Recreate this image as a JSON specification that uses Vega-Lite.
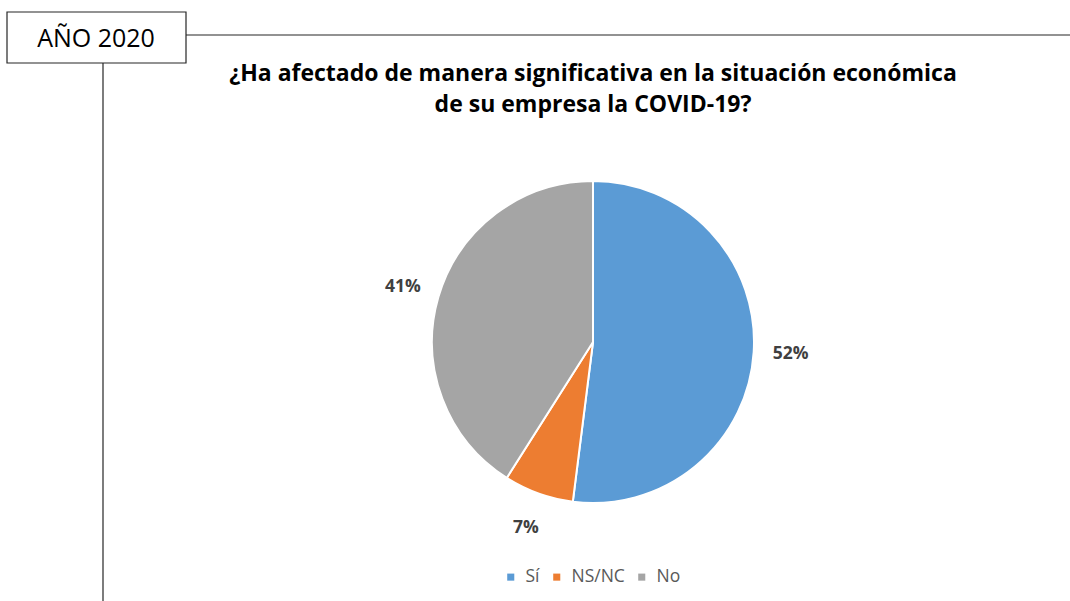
{
  "$schema": "https://vega.github.io/schema/vega-lite/v6.json",
  "width": 1070,
  "height": 601,
  "padding": 0,
  "autosize": {"type": "none"},
  "background": "white",
  "config": {"view": {"stroke": null}, "font": "Open Sans"},
  "title": {
    "text": ["¿Ha afectado de manera significativa en la situación económica", "de su empresa la COVID-19?"],
    "orient": "top",
    "anchor": "middle",
    "frame": "group",
    "offset": -117,
    "dx": 58,
    "font": "Open Sans",
    "fontSize": 23,
    "fontWeight": "bold",
    "lineHeight": 31,
    "color": "#000000"
  },
  "datasets": {
    "pie": [
      {"respuesta": "Sí", "valor": 52, "etiqueta": "52%", "orden": 1},
      {"respuesta": "NS/NC", "valor": 7, "etiqueta": "7%", "orden": 2},
      {"respuesta": "No", "valor": 41, "etiqueta": "41%", "orden": 3}
    ],
    "caja": [{"texto": "AÑO 2020"}]
  },
  "layer": [
    {
      "data": {"name": "caja"},
      "mark": {"type": "rect", "fill": "white", "stroke": "#262626", "strokeWidth": 1.2},
      "encoding": {
        "x": {"datum": 7, "type": "quantitative", "scale": {"domain": [0, 1070], "nice": false, "zero": false}, "axis": null},
        "x2": {"datum": 186},
        "y": {"datum": 12, "type": "quantitative", "scale": {"domain": [0, 601], "nice": false, "zero": false, "reverse": true}, "axis": null},
        "y2": {"datum": 63}
      }
    },
    {
      "data": {"name": "caja"},
      "mark": {"type": "rule", "stroke": "#262626", "strokeWidth": 1.2},
      "encoding": {
        "x": {"datum": 186, "type": "quantitative"},
        "x2": {"datum": 1070},
        "y": {"datum": 35, "type": "quantitative"}
      }
    },
    {
      "data": {"name": "caja"},
      "mark": {"type": "rule", "stroke": "#262626", "strokeWidth": 1.2},
      "encoding": {
        "x": {"datum": 103, "type": "quantitative"},
        "y": {"datum": 63, "type": "quantitative"},
        "y2": {"datum": 601}
      }
    },
    {
      "data": {"name": "caja"},
      "mark": {"type": "text", "font": "Open Sans", "fontSize": 25, "color": "#000000", "align": "center", "baseline": "middle"},
      "encoding": {
        "x": {"datum": 96, "type": "quantitative"},
        "y": {"datum": 39, "type": "quantitative"},
        "text": {"field": "texto"}
      }
    },
    {
      "data": {"name": "pie"},
      "mark": {"type": "arc", "radius": 161, "stroke": "white", "strokeWidth": 2},
      "encoding": {
        "x": {"datum": 593, "type": "quantitative"},
        "y": {"datum": 342, "type": "quantitative"},
        "theta": {"field": "valor", "type": "quantitative", "stack": true},
        "order": {"field": "orden", "type": "quantitative"},
        "color": {
          "field": "respuesta",
          "type": "nominal",
          "sort": ["Sí", "NS/NC", "No"],
          "scale": {"domain": ["Sí", "NS/NC", "No"], "range": ["#5B9BD5", "#ED7D31", "#A5A5A5"]},
          "legend": {
            "title": null,
            "orient": "none",
            "direction": "horizontal",
            "legendX": 502,
            "legendY": 568,
            "symbolType": "square",
            "symbolSize": 50,
            "symbolStrokeWidth": 0,
            "labelFont": "Open Sans",
            "labelFontSize": 17.5,
            "labelColor": "#595959",
            "columnPadding": 8,
            "labelOffset": 6
          }
        }
      }
    },
    {
      "data": {"name": "pie"},
      "mark": {"type": "text", "radius": 198, "font": "Open Sans", "fontSize": 17.5, "fontWeight": "bold", "color": "#404040"},
      "encoding": {
        "x": {"datum": 593, "type": "quantitative"},
        "y": {"datum": 342, "type": "quantitative"},
        "theta": {"field": "valor", "type": "quantitative", "stack": true},
        "order": {"field": "orden", "type": "quantitative"},
        "detail": {"field": "respuesta", "type": "nominal"},
        "text": {"field": "etiqueta"}
      }
    }
  ]
}
